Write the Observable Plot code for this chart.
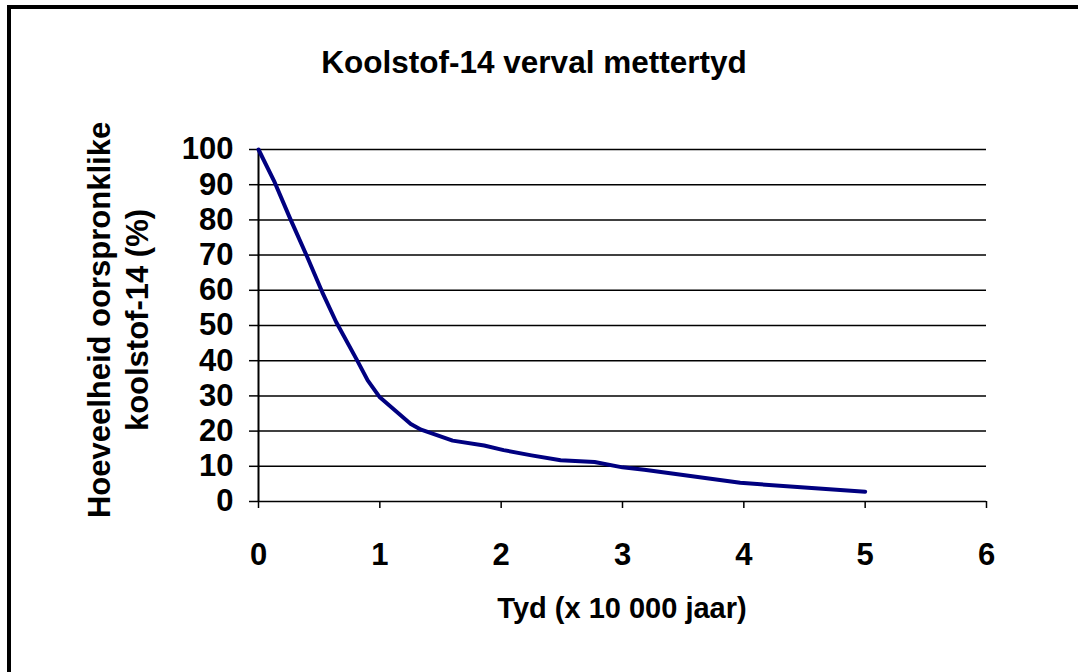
<!DOCTYPE html>
<html>
<head>
<meta charset="utf-8">
<script src="https://cdn.jsdelivr.net/npm/d3@7"></script>
<script src="https://cdn.jsdelivr.net/npm/@observablehq/plot@0.6"></script>
<style>
  html, body { margin: 0; padding: 0; background: #fff; overflow: hidden; width: 1078px; height: 672px; }
  #frame { position: absolute; left: 7px; top: 5px; width: 2000px; height: 2000px; border: 4px solid #000; box-sizing: border-box; }
  #chart { position: absolute; left: 0; top: 0; }
  .lbl { position: absolute; font-family: "Liberation Sans", Arial, sans-serif; font-weight: bold; font-size: 31px; line-height: 31px; white-space: nowrap; color: #000; }
  #title { left: 534px; top: 46px; transform: translateX(-50%); font-size: 31.5px; line-height: 32px; }
  #xlabel { left: 622px; top: 593px; transform: translateX(-50%); font-size: 29px; line-height: 30px; }
  #ylabel { left: 119px; top: 320px; transform: translate(-50%, -50%) rotate(-90deg); text-align: center; line-height: 38px; }
</style>
</head>
<body>
<div id="frame"></div>
<div id="chart"></div>
<div class="lbl" id="title">Koolstof-14 verval mettertyd</div>
<div class="lbl" id="ylabel">Hoeveelheid oorspronklike<br>koolstof-14 (%)</div>
<div class="lbl" id="xlabel">Tyd (x 10 000 jaar)</div>
<script>
const timeValues = [0, 0.133, 0.262, 0.40, 0.525, 0.64, 0.813, 0.90, 1.0, 1.255, 1.34, 1.6, 1.86, 2.02, 2.25, 2.49, 2.77, 3.0, 3.18, 3.97, 4.5, 5.0];
const percentValues = [100, 90.7, 80.3, 69.6, 59.5, 51.0, 40.1, 34.4, 29.6, 22.0, 20.4, 17.3, 15.9, 14.6, 13.1, 11.7, 11.2, 9.7, 9.0, 5.3, 4.0, 2.8];
const xTicks = [0, 1, 2, 3, 4, 5, 6];
const yTicks = [0, 10, 20, 30, 40, 50, 60, 70, 80, 90, 100];

const data = timeValues.map((t, i) => ({t, p: percentValues[i]}));

const chart = Plot.plot({
  width: 1078,
  height: 672,
  marginLeft: 258,
  marginRight: 92,
  marginTop: 149,
  marginBottom: 171,
  style: {fontFamily: "'Liberation Sans', Arial, sans-serif", color: "#000", background: "transparent"},
  x: {domain: [0, 6]},
  y: {domain: [0, 100]},
  marks: [
    Plot.ruleY(yTicks, {stroke: "#000", strokeWidth: 1.5}),
    Plot.ruleX([0], {stroke: "#000", strokeWidth: 2}),
    Plot.axisY({ticks: yTicks, tickFormat: d => String(d), tickSize: 9, tickPadding: 16, fontSize: 31, fontWeight: "bold", strokeWidth: 1.5, label: null}),
    Plot.axisX({ticks: xTicks, tickFormat: d => String(d), tickSize: 7, tickPadding: 34, fontSize: 31, fontWeight: "bold", strokeWidth: 1.5, label: null}),
    Plot.line(data, {x: "t", y: "p", stroke: "#000080", strokeWidth: 4})
  ]
});
document.getElementById("chart").appendChild(chart);
</script>
</body>
</html>
